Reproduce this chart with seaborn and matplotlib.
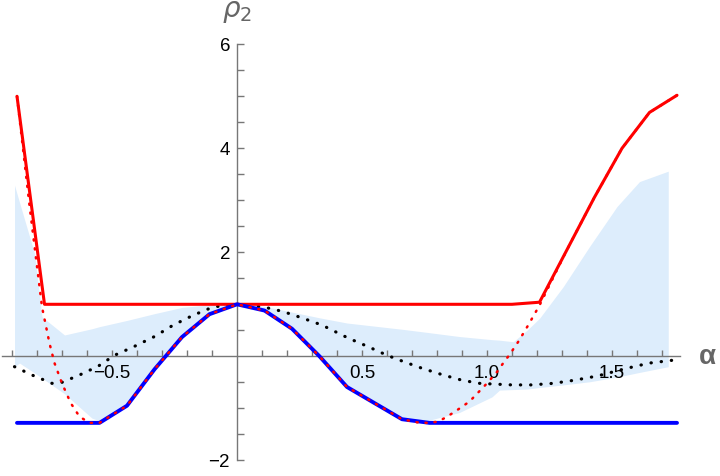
import numpy as np
import matplotlib
matplotlib.use("Agg")
import matplotlib.pyplot as plt
import seaborn as sns
from matplotlib.ticker import FixedLocator, NullFormatter

# data -------------------------------------------------------------------
grid_x = [-0.88, -0.77, -0.66, -0.55, -0.44, -0.33, -0.22, -0.11, 0.0, 0.11, 0.22, 0.33, 0.44,
          0.55, 0.66, 0.77, 0.88, 0.99, 1.10, 1.21, 1.32, 1.43, 1.54, 1.65, 1.76]
red_solid = [5.0, 1.0, 1.0, 1.0, 1.0, 1.0, 1.0, 1.0, 1.0, 1.0, 1.0, 1.0, 1.0,
             1.0, 1.0, 1.0, 1.0, 1.0, 1.0, 1.04, 2.05, 3.06, 4.0, 4.69, 5.02]
blue = [-1.28, -1.28, -1.28, -1.28, -0.95, -0.25, 0.37, 0.81, 1.0, 0.88, 0.53, 0.0, -0.59,
        -0.9, -1.21, -1.28, -1.28, -1.28, -1.28, -1.28, -1.28, -1.28, -1.28, -1.28, -1.28]

red_dot_x = [-0.88, -0.83, -0.78, -0.75, -0.73, -0.70, -0.665, -0.63, -0.59, -0.55, -0.44, -0.33,
             -0.22, -0.11, 0.0, 0.11, 0.22, 0.33, 0.44, 0.55, 0.66, 0.72, 0.76, 0.80, 0.83, 0.87,
             0.93, 1.0, 1.04, 1.065, 1.09, 1.125, 1.165, 1.21, 1.32, 1.43, 1.54, 1.65, 1.76]
red_dot_y = [5.0, 2.9, 0.95, 0.25, -0.13, -0.52, -0.9, -1.16, -1.28, -1.28, -0.95, -0.25,
             0.37, 0.81, 1.0, 0.88, 0.53, 0.0, -0.59, -0.9, -1.21, -1.27, -1.28, -1.26, -1.19, -1.07,
             -0.87, -0.52, -0.30, -0.13, 0.03, 0.28, 0.6, 0.98, 2.05, 3.06, 4.0, 4.69, 5.02]

black_x = [-0.89, -0.82, -0.74, -0.70, -0.63, -0.555, -0.49, -0.415, -0.33, -0.255, -0.175, -0.095,
           0.0, 0.105, 0.185, 0.265, 0.34, 0.445, 0.527, 0.6, 0.665, 0.74, 0.825, 0.9, 0.97, 1.01,
           1.1, 1.18, 1.265, 1.35, 1.44, 1.56, 1.65, 1.77]
black_y = [-0.2, -0.36, -0.52, -0.50, -0.36, -0.19, 0.02, 0.18, 0.38, 0.6, 0.79, 0.95,
           1.0, 0.95, 0.86, 0.73, 0.6, 0.35, 0.18, 0.02, -0.10, -0.23, -0.36, -0.46, -0.52, -0.53,
           -0.55, -0.55, -0.52, -0.46, -0.38, -0.23, -0.13, -0.06]

band_x = [-0.89, -0.87, -0.81, -0.78, -0.69, -0.58, -0.55, -0.44, -0.33, -0.22, -0.11, 0.0, 0.11,
          0.22, 0.33, 0.44, 0.55, 0.66, 0.76, 0.89, 1.02, 1.05, 1.105, 1.16, 1.21, 1.305, 1.41,
          1.52, 1.61, 1.725]
band_hi = [3.29, 2.96, 1.98, 0.76, 0.41, 0.53, 0.57, 0.69, 0.82, 0.94, 0.99, 1.0, 0.96,
           0.85, 0.74, 0.64, 0.58, 0.52, 0.46, 0.38, 0.32, 0.31, 0.28, 0.5, 0.73, 1.34, 2.11,
           2.88, 3.36, 3.56]
band_lo = [-0.2, -0.13, -0.32, -0.42, -0.72, -1.19, -1.24, -0.95, -0.25, 0.37, 0.81, 1.0, 0.88,
           0.53, 0.0, -0.59, -0.9, -1.18, -1.24, -1.08, -0.78, -0.65, -0.64, -0.63, -0.6, -0.55, -0.49,
           -0.4, -0.31, -0.2]

xticks = [-0.5, 0.5, 1.0, 1.5]
xticklabels = ['\u22120.5', '0.5', '1.0', '1.5']
yticks = [-2, 2, 4, 6]
yticklabels = ['\u22122', '2', '4', '6']

# fig --------------------------------------------------------------------
sns.set_style("white")
plt.rcParams['font.family'] = ['Liberation Sans', 'DejaVu Sans']

fig = plt.figure(figsize=(7.2, 4.76), dpi=100)
ax = fig.add_axes([0, 0, 1, 1])
ax.set_axisbelow(False)   # seaborn puts the axis under everything, band would hide the labels

ax.fill_between(band_x, band_lo, band_hi, color='#ddedfc', lw=0, zorder=1)
sns.lineplot(x=black_x, y=black_y, ax=ax, sort=False, estimator=None, color='black', lw=2.3,
             linestyle=(0, (0.1, 3.1)), dash_capstyle='round', zorder=3)
sns.lineplot(x=grid_x, y=red_solid, ax=ax, sort=False, estimator=None, color='#ff0000', lw=2.2, zorder=4)
sns.lineplot(x=grid_x, y=blue, ax=ax, sort=False, estimator=None, color='#0000ff', lw=2.8, zorder=5)
sns.lineplot(x=red_dot_x, y=red_dot_y, ax=ax, sort=False, estimator=None, color='#ff0000', lw=1.8,
             linestyle=(0, (0.5, 3.1)), dash_capstyle='round', zorder=6)
ax.set_xlim(-0.948, 1.932)
ax.set_ylim(-2.302, 6.852)

# axes through the origin, Mathematica style
for s in ['top', 'right']:
    ax.spines[s].set_visible(False)
ax.spines['left'].set_position(('data', 0))
ax.spines['bottom'].set_position(('data', 0))
ax.spines['left'].set_bounds(-2, 6)
ax.spines['bottom'].set_bounds(-0.94, 1.772)
for s in ['left', 'bottom']:
    ax.spines[s].set_color('#777777')
    ax.spines[s].set_linewidth(1.0)
    ax.spines[s].set_zorder(2)

ax.set_xticks(xticks, xticklabels)
ax.set_yticks(yticks, yticklabels)
ax.xaxis.set_minor_locator(FixedLocator([v / 10 for v in range(-9, 18) if v not in (-5, 0, 5, 10, 15)]))
ax.yaxis.set_minor_locator(FixedLocator([v / 2 for v in range(-4, 13) if v % 4 != 0]))
ax.xaxis.set_minor_formatter(NullFormatter())
ax.yaxis.set_minor_formatter(NullFormatter())
ax.tick_params(which='both', bottom=True, left=True, labelbottom=True, labelleft=True,
               direction='in', color='#777777', width=1.0, labelsize=13.5, labelcolor='black')
ax.tick_params(axis='x', which='both', length=4.5, pad=6)
ax.tick_params(axis='y', which='both', length=5, pad=5)
ax.set_xlabel('')
ax.set_ylabel('')

ax.text(0, 6.62, r'$\rho_2$', ha='center', va='center', fontsize=20, color='#666666')
ax.text(1.88, -0.02, '\u03b1', ha='center', va='center', fontsize=20, color='#666666', fontweight='bold')

fig.savefig('out.png', dpi=100)
